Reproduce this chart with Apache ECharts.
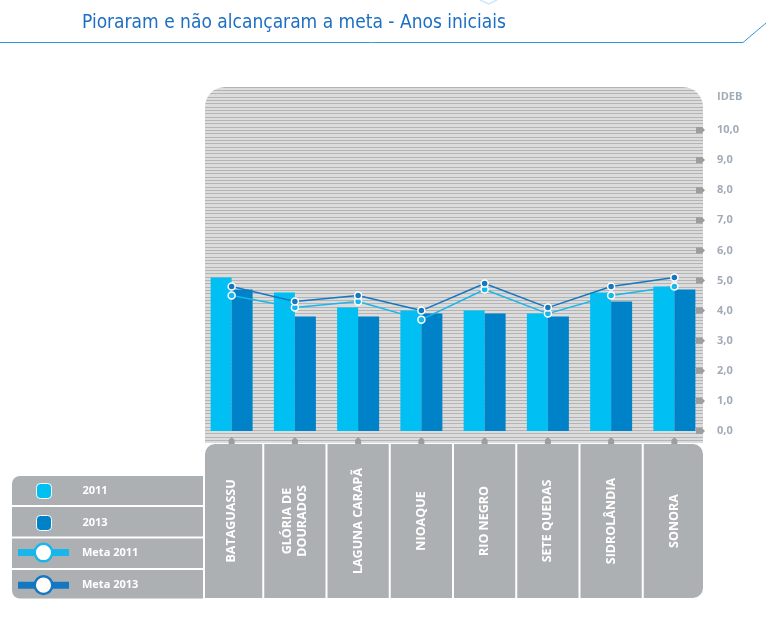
<!DOCTYPE html>
<html>
<head>
<meta charset="utf-8">
<title>Pioraram e não alcançaram a meta - Anos iniciais</title>
<script src="https://cdn.jsdelivr.net/npm/echarts@6/dist/echarts.min.js"></script>
<style>
  html, body { margin: 0; padding: 0; background: #fff; }
  #main { width: 769px; height: 621px; }
</style>
</head>
<body>
<div id="main"></div>
<script>
// municípios (eixo x)
var cidades = ['BATAGUASSU', 'GLÓRIA DE\nDOURADOS', 'LAGUNA CARAPÃ', 'NIOAQUE', 'RIO NEGRO', 'SETE QUEDAS', 'SIDROLÂNDIA', 'SONORA'];
// IDEB observado
var ideb2011 = [5.1, 4.6, 4.1, 4.0, 4.0, 3.9, 4.6, 4.8];
var ideb2013 = [4.7, 3.8, 3.8, 3.9, 3.9, 3.8, 4.3, 4.7];
// metas projetadas
var meta2011 = [4.5, 4.1, 4.3, 3.7, 4.7, 3.9, 4.5, 4.8];
var meta2013 = [4.8, 4.3, 4.5, 4.0, 4.9, 4.1, 4.8, 5.1];
// escala do IDEB
var idebMin = 0, idebMax = 10, idebPasso = 1;
var idebTicks = [0, 1, 2, 3, 4, 5, 6, 7, 8, 9, 10];

var AZUL_CLARO = '#00bff3';
var AZUL_ESCURO = '#0082c8';
var LINHA_CLARA = '#18b6ea';
var LINHA_ESCURA = '#1577c0';
var CINZA = '#adb0b3';
var CINZA_MARCA = '#9c9ea1';
var FONTE = "'Open Sans', 'DejaVu Sans', sans-serif";
// bordas do fundo listrado
var FUNDO_ESQ = 205, FUNDO_DIR = 703;

// fundo listrado do gráfico
var hachura = document.createElement('canvas');
hachura.width = 4;
hachura.height = 10;
var ctx = hachura.getContext('2d');
ctx.fillStyle = '#dcdcdc';
ctx.fillRect(0, 0, 4, 10);
ctx.fillStyle = '#b4b4b4';
[0, 3, 7].forEach(function (y) { ctx.fillRect(0, y, 4, 1); });

// linhas cinzas da legenda
var linhasLegenda = [
    { y: 476, h: 29, r: [8, 0, 0, 0] },
    { y: 507, h: 29.5, r: 0 },
    { y: 538.5, h: 29.5, r: 0 },
    { y: 570, h: 28.5, r: [0, 0, 0, 8] }
];

// caixa cinza com o nome do município + marcador acima dela
function desenhaCaixa(params, api) {
    var i = api.value(0);
    var topo = api.coord([i, 1]);
    var base = api.coord([i, 0]);
    var banda = api.size([1, 0])[0];
    var cx = topo[0];
    var x0 = Math.max(cx - banda / 2 + 1, FUNDO_ESQ);
    var x1 = Math.min(cx + banda / 2 - 1, FUNDO_DIR);
    var r = 0;
    if (i === 0) r = [10, 0, 0, 0];
    if (i === cidades.length - 1) r = [0, 10, 10, 0];
    return {
        type: 'group',
        children: [
            {
                type: 'rect',
                shape: { x: x0, y: topo[1], width: x1 - x0, height: base[1] - topo[1], r: r },
                style: { fill: CINZA }
            },
            {
                type: 'polygon',
                shape: { points: [[cx - 3, topo[1]], [cx - 3, topo[1] - 4], [cx, topo[1] - 7], [cx + 3, topo[1] - 4], [cx + 3, topo[1]]] },
                style: { fill: CINZA_MARCA }
            },
            {
                type: 'text',
                x: cx,
                y: (topo[1] + base[1]) / 2,
                rotation: Math.PI / 2,
                style: {
                    text: cidades[i],
                    fill: '#fff',
                    fontFamily: FONTE,
                    fontWeight: 'bold',
                    fontSize: 12.5,
                    lineHeight: 15,
                    align: 'center',
                    verticalAlign: 'middle'
                }
            }
        ]
    };
}

// setinha cinza em cada marca do eixo IDEB
function desenhaSeta(params, api) {
    var y = api.coord([0, api.value(1)])[1];
    var xd = params.coordSys.x + params.coordSys.width - 1;
    return {
        type: 'polygon',
        shape: { points: [[xd - 9, y - 3], [xd - 3, y - 3], [xd, y], [xd - 3, y + 3], [xd - 9, y + 3]] },
        style: { fill: CINZA_MARCA }
    };
}

var myChart = echarts.init(document.getElementById('main'));

myChart.setOption({
    animation: false,
    title: {
        text: 'Pioraram e não alcançaram a meta - Anos iniciais',
        left: 82,
        top: 14,
        padding: 0,
        textStyle: {
            fontFamily: "'Liberation Sans Narrow', 'DejaVu Sans Condensed', sans-serif",
            fontSize: 19,
            fontWeight: 'normal',
            color: '#1d6fc3'
        }
    },
    graphic: [
        {
            type: 'polyline',
            shape: { points: [[0, 42.5], [743, 42.5], [766, 23]] },
            style: { stroke: '#2b9ad8', lineWidth: 1, fill: null }
        },
        {
            // enfeite cortado no topo
            type: 'polyline',
            shape: { points: [[480, 0], [489, 4], [497, 0]] },
            style: { stroke: '#cde8f7', lineWidth: 1.5, fill: null }
        },
        {
            type: 'rect',
            z: -10,
            shape: { x: FUNDO_ESQ, y: 87, width: FUNDO_DIR - FUNDO_ESQ, height: 356, r: [20, 20, 0, 0] },
            style: { fill: { image: hachura, repeat: 'repeat' } }
        }
    ].concat(linhasLegenda.map(function (l) {
        return {
            type: 'rect',
            z: -10,
            shape: { x: 12, y: l.y, width: 191, height: l.h, r: l.r },
            style: { fill: CINZA }
        };
    })),
    legend: [
        {
            data: ['2011', '2013'],
            orient: 'vertical',
            left: 36,
            top: 483,
            padding: 0,
            itemWidth: 15,
            itemHeight: 15,
            itemGap: 16,
            icon: 'roundRect',
            itemStyle: { borderColor: '#fff', borderWidth: 1 },
            selectedMode: false,
            textStyle: { color: '#fff', fontFamily: FONTE, fontWeight: 'bold', fontSize: 11, padding: [0, 0, 0, 26] }
        },
        {
            data: [
                { name: 'Meta 2011', lineStyle: { width: 7, color: LINHA_CLARA }, itemStyle: { color: '#fff', borderColor: LINHA_CLARA, borderWidth: 2.5 } },
                { name: 'Meta 2013', lineStyle: { width: 7, color: LINHA_ESCURA }, itemStyle: { color: '#fff', borderColor: LINHA_ESCURA, borderWidth: 2.5 } }
            ],
            orient: 'vertical',
            left: 14.5,
            top: 542.5,
            padding: 0,
            itemWidth: 51,
            itemHeight: 22,
            itemGap: 12.5,
            selectedMode: false,
            textStyle: { color: '#fff', fontFamily: FONTE, fontWeight: 'bold', fontSize: 11, padding: [0, 0, 0, 8] }
        }
    ],
    grid: [
        { left: 200, right: 63, top: 130, height: 301 },   // gráfico
        { left: 200, right: 63, top: 444, height: 154 }    // caixas dos nomes
    ],
    xAxis: [
        {
            type: 'category',
            gridIndex: 0,
            data: cidades,
            axisLine: { show: false },
            axisTick: { show: false },
            axisLabel: { show: false }
        },
        {
            type: 'category',
            gridIndex: 1,
            data: cidades,
            show: false
        }
    ],
    yAxis: [
        {
            type: 'value',
            gridIndex: 0,
            position: 'right',
            min: idebMin,
            max: idebMax,
            interval: idebPasso,
            name: 'IDEB',
            nameLocation: 'end',
            nameGap: 33,
            nameTextStyle: { align: 'left', verticalAlign: 'middle', padding: [0, 0, 0, 11], color: '#a2abb9', fontFamily: FONTE, fontWeight: 'bold', fontSize: 11 },
            axisLine: { show: false },
            axisTick: { show: false },
            splitLine: { show: false },
            axisLabel: {
                margin: 11,
                color: '#a2abb9',
                fontFamily: FONTE,
                fontWeight: 'bold',
                fontSize: 11,
                formatter: function (v) { return v.toFixed(1).replace('.', ','); }
            }
        },
        { type: 'value', gridIndex: 1, min: 0, max: 1, show: false }
    ],
    series: [
        {
            name: '2011',
            type: 'bar',
            barWidth: 21,
            barGap: '0%',
            itemStyle: { color: AZUL_CLARO },
            data: ideb2011
        },
        {
            name: '2013',
            type: 'bar',
            barWidth: 21,
            barGap: '0%',
            itemStyle: { color: AZUL_ESCURO },
            data: ideb2013
        },
        {
            name: 'Meta 2011',
            type: 'line',
            z: 5,
            symbol: 'circle',
            symbolSize: 7,
            lineStyle: { color: LINHA_CLARA, width: 1.5 },
            itemStyle: { color: LINHA_CLARA, borderColor: '#fff', borderWidth: 1.5 },
            data: meta2011
        },
        {
            name: 'Meta 2013',
            type: 'line',
            z: 5,
            symbol: 'circle',
            symbolSize: 7,
            lineStyle: { color: LINHA_ESCURA, width: 1.5 },
            itemStyle: { color: LINHA_ESCURA, borderColor: '#fff', borderWidth: 1.5 },
            data: meta2013
        },
        {
            name: 'setas',
            type: 'custom',
            silent: true,
            clip: false,
            renderItem: desenhaSeta,
            data: idebTicks.map(function (v) { return [0, v]; })
        },
        {
            name: 'caixas',
            type: 'custom',
            xAxisIndex: 1,
            yAxisIndex: 1,
            silent: true,
            renderItem: desenhaCaixa,
            data: cidades.map(function (c, i) { return [i, 1]; })
        }
    ]
});
</script>
</body>
</html>
